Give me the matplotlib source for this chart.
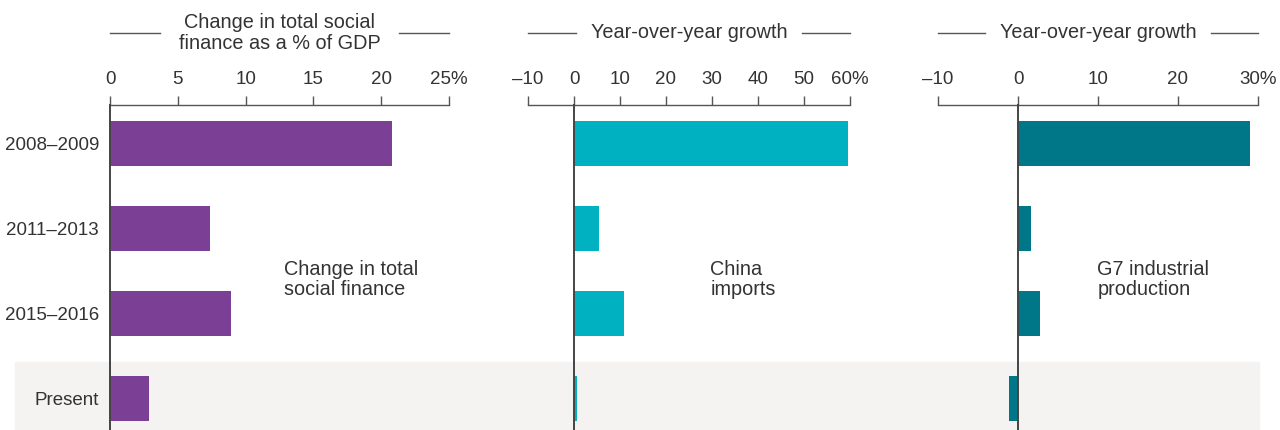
import matplotlib
matplotlib.use("Agg")
import matplotlib.pyplot as plt
from matplotlib.patches import Rectangle

plt.rcParams['font.family'] = ['Liberation Sans', 'DejaVu Sans']

periods = ['2008–2009', '2011–2013', '2015–2016', 'Present']
social_finance = [20.8, 7.4, 8.9, 2.9]
china_imports = [59.6, 5.4, 10.9, 0.6]
g7_production = [29.0, 1.6, 2.7, -1.1]

headers = ['Change in total social\nfinance as a % of GDP', 'Year-over-year growth', 'Year-over-year growth']
labels = ['Change in total\nsocial finance', 'China\nimports', 'G7 industrial\nproduction']
ticks = [[0, 5, 10, 15, 20, 25], [-10, 0, 10, 20, 30, 40, 50, 60], [-10, 0, 10, 20, 30]]
colors = ['#7b4096', '#00b2c1', '#007789']

W, H = 1280, 430
fig = plt.figure(figsize=(W / 100, H / 100), dpi=100)

# shaded band behind "Present"
fig.patches.append(Rectangle((15 / W, 0), (1259 - 15) / W, (430 - 362) / H,
                             transform=fig.transFigure, color='#f4f3f1', zorder=-1))

ax_top = 105   # pixel row of the axis line
ax_h = H - ax_top
# pixel extents of each panel: (left, right)
spans = [(110, 449), (528, 850), (938, 1258)]
label_pos = [(12.8, 1.6), (29.6, 1.6), (9.9, 1.6)]
data = [social_finance, china_imports, g7_production]

txt = '#333333'
axc = '#555555'
fs_txt = 14.3
fs_tick = 13.5


def yfrac(ypx):
    return (H - ypx) / ax_h


for i in range(3):
    l, r = spans[i]
    ax = fig.add_axes([l / W, 0, (r - l) / W, ax_h / H])
    ax.patch.set_visible(False)
    ypos = list(range(len(periods)))
    ax.barh(ypos, data[i], height=0.53, color=colors[i], zorder=2)
    ax.set_xlim(ticks[i][0], ticks[i][-1])
    ax.set_ylim(3.376, -0.459)
    ax.axvline(0, color='#444444', lw=1.4, zorder=3, clip_on=False)

    ax.xaxis.tick_top()
    ax.set_xticks(ticks[i])
    tl = [('–' + str(-t)) if t < 0 else str(t) for t in ticks[i]]
    tl[-1] = tl[-1] + '%'
    ax.set_xticklabels(tl)
    ax.tick_params(axis='x', direction='out', length=6.5, width=1, color=axc,
                   labelsize=fs_tick, labelcolor=txt, pad=6)
    for s in ['left', 'right', 'bottom']:
        ax.spines[s].set_visible(False)
    ax.spines['top'].set_color(axc)
    ax.spines['top'].set_linewidth(1)

    if i == 0:
        ax.set_yticks(ypos)
        ax.set_yticklabels(periods)
        ax.tick_params(axis='y', length=0, labelsize=fs_tick, labelcolor=txt, pad=8)
    else:
        ax.set_yticks([])

    # header with flanking rules
    ax.text(0.5, yfrac(33), headers[i], transform=ax.transAxes, ha='center', va='center',
            fontsize=fs_txt, color=txt, linespacing=1.1)
    ax.plot([0, 0.148], [yfrac(33)] * 2, transform=ax.transAxes, color=axc, lw=1, clip_on=False)
    ax.plot([1 - 0.148, 1.0], [yfrac(33)] * 2, transform=ax.transAxes, color=axc, lw=1, clip_on=False)

    ax.text(label_pos[i][0], label_pos[i][1], labels[i], ha='left', va='center',
            fontsize=fs_txt, color=txt, linespacing=1.1)

fig.savefig('out.png', dpi=100)
